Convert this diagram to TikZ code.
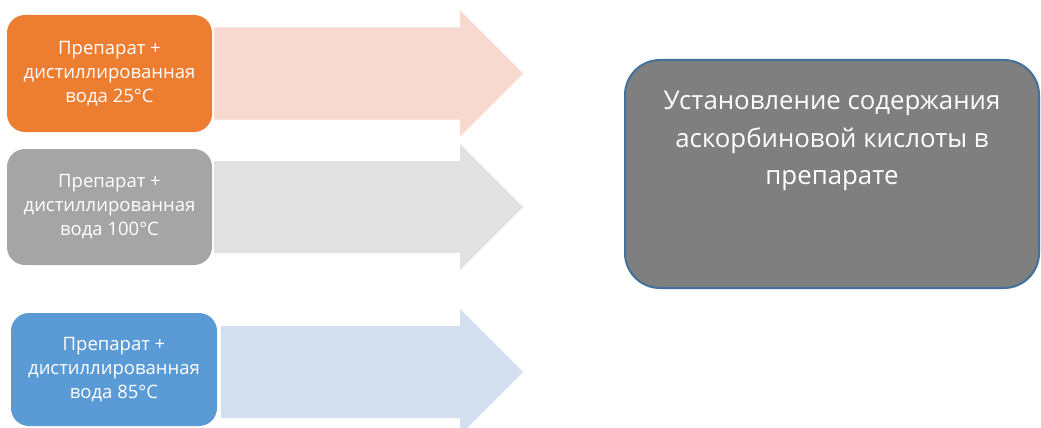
\documentclass[tikz,border=0pt]{standalone}
\usepackage{fontspec}
\setmainfont{Open Sans}
\usepackage{tikz}
\usetikzlibrary{positioning}
\definecolor{samplewarm}{HTML}{ED7D31}
\definecolor{samplehot}{HTML}{A5A5A5}
\definecolor{samplemid}{HTML}{5B9BD5}
\definecolor{flowwarm}{HTML}{F8D9CF}
\definecolor{flowhot}{HTML}{E1E1E1}
\definecolor{flowmid}{HTML}{D3DEEE}
\definecolor{resultfill}{HTML}{7F7F7F}
\definecolor{resultedge}{HTML}{41719C}

% block arrow: start coordinate, total length, fill colour
\newcommand{\blockarrow}[3]{%
  \fill[#3, shift={(#1)}] (0,-46) -- (#2-63,-46) -- (#2-63,-63) -- (#2,0)
    -- (#2-63,63) -- (#2-63,46) -- (0,46) -- cycle;}

\begin{document}
\begin{tikzpicture}[
            x=1pt, y=-1pt,
            sample/.style={rounded corners=18pt, minimum width=205pt, minimum height=117pt,
                    inner sep=0pt, align=center, text=white,
                    font=\fontsize{18.5}{24}\selectfont},
            result/.style={draw=resultedge, fill=resultfill, line width=2pt,
                    rounded corners=35pt, minimum width=414pt, minimum height=228pt},
            resulttext/.style={inner sep=0pt, align=center, text=white,
                    font=\fontsize{25.8}{37.5}\selectfont}
        ]
        \useasboundingbox (0,0) rectangle (1041,428);

        % ================= samples (left column) =================
        \node[sample, fill=samplewarm] (warm) at (109.5,73.5)
        {Препарат +\\дистиллированная\\вода 25°C};
        \node[sample, fill=samplehot, minimum height=116pt] (hot) at (109.5,207)
        {Препарат +\\дистиллированная\\вода 100°C};
        \node[sample, fill=samplemid, minimum height=113pt, minimum width=206pt] (mid) at (114,369.5)
        {Препарат +\\дистиллированная\\вода 85°C};

        % ================= block arrows =================
        \coordinate[right=2pt of warm] (warmflow);
        \coordinate[right=2pt of hot] (hotflow);
        \coordinate[right=4pt of mid, yshift=-2.5pt] (midflow);
        \blockarrow{warmflow}{309}{flowwarm}
        \blockarrow{hotflow}{309}{flowhot}
        \blockarrow{midflow}{302}{flowmid}

        % ================= result =================
        \node[result] (res) at (832,174) {};
        \node[resulttext, below=32pt of res.north] (restext)
        {Установление содержания\\аскорбиновой кислоты в\\препарате};

    \end{tikzpicture}
\end{document}
